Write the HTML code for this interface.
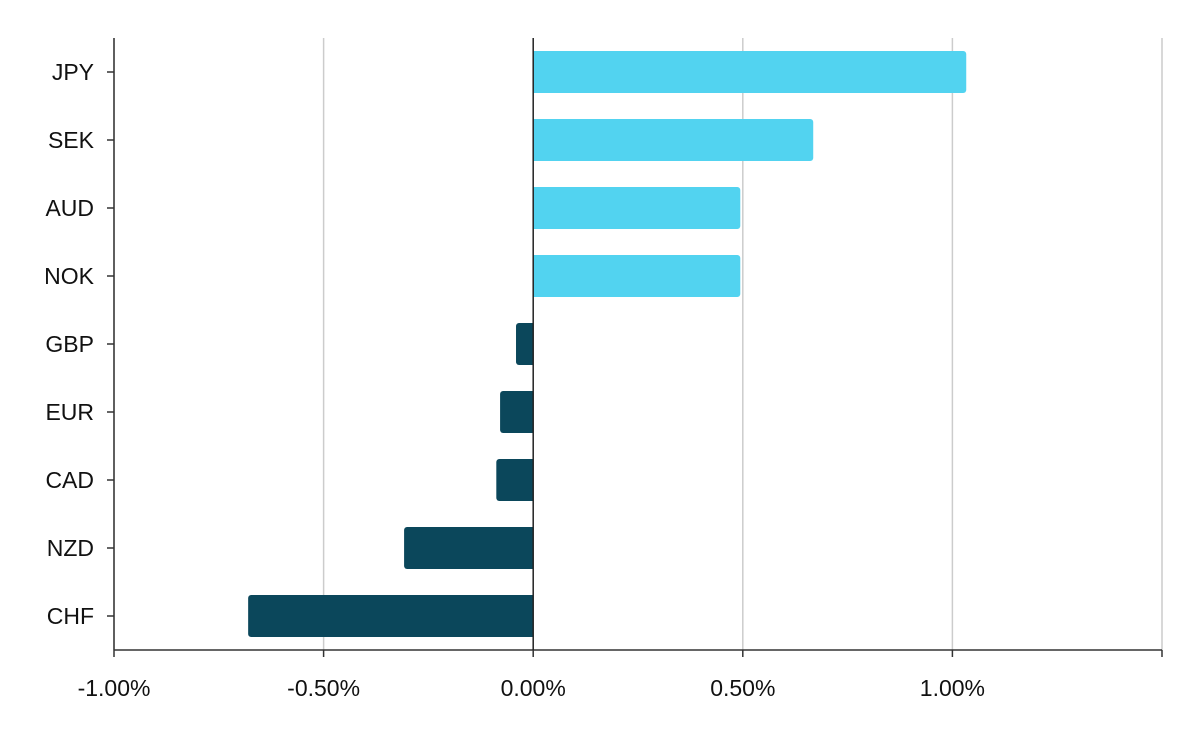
<!DOCTYPE html>
<html><head><meta charset="utf-8"><style>
body{margin:0;background:#fff}
svg text{font-family:"Liberation Sans",sans-serif;font-size:23px;fill:#111}
</style></head><body>
<svg id="chart" width="1200" height="742" xmlns="http://www.w3.org/2000/svg"></svg>
<script>
const categories=["JPY","SEK","AUD","NOK","GBP","EUR","CAD","NZD","CHF"];
const values=[1.033,0.668,0.494,0.494,-0.041,-0.079,-0.088,-0.308,-0.68];
const ticks=[-1,-0.5,0,0.5,1,1.5];
const tickLabels=["-1.00%","-0.50%","0.00%","0.50%","1.00%",""];
const NS="http://www.w3.org/2000/svg";
const svg=document.getElementById("chart");
const x0=114,x1=1162,vmin=-1,vmax=1.5,plotTop=38,plotBottom=650;
const xs=v=>x0+(v-vmin)/(vmax-vmin)*(x1-x0);
const band=(plotBottom-plotTop)/categories.length;
const ys=i=>plotTop+band*(i+0.5);
function mk(t,a){const e=document.createElementNS(NS,t);for(const k in a)e.setAttribute(k,a[k]);svg.appendChild(e);return e;}
ticks.forEach((t,i)=>{
 const x=xs(t);
 if(t!==0){const g=mk("line",{x1:x,x2:x,y1:plotTop,y2:plotBottom,stroke:"#cccccc","stroke-width":1.5});
 
 }
 const tk=mk("line",{x1:x,x2:x,y1:plotBottom,y2:plotBottom+7,stroke:"#333","stroke-width":1.5});
 
 
 if(tickLabels[i]){const tx=mk("text",{x:x,y:696,"text-anchor":"middle"});tx.textContent=tickLabels[i];
 
 }
});
const ax=mk("line",{x1:x0,x2:x0,y1:plotTop,y2:plotBottom,stroke:"#333","stroke-width":1.5});


const bx=mk("line",{x1:x0,x2:x1,y1:plotBottom,y2:plotBottom,stroke:"#333","stroke-width":1.5});


categories.forEach((c,i)=>{
 const y=ys(i),v=values[i],xz=xs(0),xv=xs(v);
 const r=3,h=42,l=Math.min(xz,xv),w=Math.abs(xv-xz);
 const col=v>=0?"#52d3f0":"#0b475b";
 const b=mk("rect",{x:l,y:y-h/2,width:w,height:h,rx:r,fill:col});
 
 
 const s=mk("rect",{x:v>=0?xz:xz-Math.min(w,r),y:y-h/2,width:Math.min(w,r),height:h,fill:col});
 
 
 const tk=mk("line",{x1:x0-7,x2:x0,y1:y,y2:y,stroke:"#333","stroke-width":1.5});
 
 
 const t=mk("text",{x:94,y:y+8,"text-anchor":"end"});t.textContent=c;
 
 
});
const zl=mk("line",{x1:xs(0),x2:xs(0),y1:plotTop,y2:plotBottom,stroke:"#222","stroke-width":1.5});


</script>
</body></html>
